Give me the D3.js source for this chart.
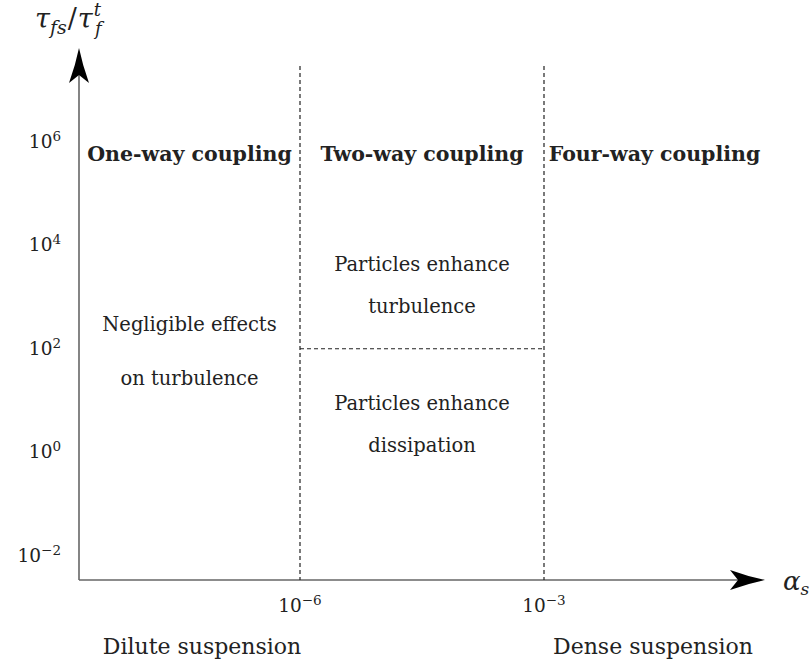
<!DOCTYPE html>
<html>
<head>
<meta charset="utf-8">
<script src="https://cdn.jsdelivr.net/npm/d3@7"></script>
<style>
  html, body { margin: 0; padding: 0; background: #fff; }
  svg text { font-family: "DejaVu Serif", "Liberation Serif", serif; fill: #222; }
</style>
</head>
<body>
<svg id="chart" width="812" height="664"></svg>
<script>
// ---------- data ----------
const xTickValues = [1e-6, 1e-3];
const xTickExponents = ["−6", "−3"];
const yTickValues = [1e-2, 1e0, 1e2, 1e4, 1e6];
const yTickExponents = ["−2", "0", "2", "4", "6"];
const regimeBoundaries = [1e-6, 1e-3];
const regimeNames = ["One-way coupling", "Two-way coupling", "Four-way coupling"];
const twoWayThreshold = 1e2;
const noteRegion = ["one", "one", "two", "two", "two", "two"];
const noteLevel = [10 ** 2.34, 10 ** 1.3, 10 ** 3.5, 10 ** 2.69, 10 ** 0.81, 10 ** 0.0];
const noteText = ["Negligible effects", "on turbulence", "Particles enhance", "turbulence", "Particles enhance", "dissipation"];
const bottomLabels = ["Dilute suspension", "Dense suspension"];

// ---------- scales ----------
const svg = d3.select("#chart");
const x = d3.scaleLog().domain([1e-6, 1e-3]).range([300, 544]);
const y = d3.scaleLog().domain([1e-2, 1e6]).range([555.5, 142]);

const originX = 79, originY = 580;
const xEnd = 765, yEnd = 48;
const axisColor = "#666";

// ---------- axes ----------
svg.append("line").attr("x1", originX).attr("y1", originY).attr("x2", xEnd - 20).attr("y2", originY)
  .attr("stroke", axisColor).attr("stroke-width", 1.6);
svg.append("line").attr("x1", originX).attr("y1", originY).attr("x2", originX).attr("y2", yEnd + 20)
  .attr("stroke", axisColor).attr("stroke-width", 1.6);

const stealth = "M0,0 Q-17,-3.5 -35,-10 L-27,0 L-35,10 Q-17,3.5 0,0 Z";
svg.append("path").attr("d", stealth).attr("fill", "#000")
  .attr("transform", `translate(${xEnd},${originY})`);
svg.append("path").attr("d", stealth).attr("fill", "#000")
  .attr("transform", `translate(${originX},${yEnd}) rotate(-90)`);

// ---------- dashed regime boundaries ----------
svg.selectAll("line.bound").data(regimeBoundaries).join("line")
  .attr("class", "bound")
  .attr("x1", d => x(d)).attr("x2", d => x(d))
  .attr("y1", 66).attr("y2", originY)
  .attr("stroke", "#222").attr("stroke-width", 1.2).attr("stroke-dasharray", "4,3");

svg.append("line")
  .attr("x1", x(regimeBoundaries[0])).attr("x2", x(regimeBoundaries[1]))
  .attr("y1", y(twoWayThreshold)).attr("y2", y(twoWayThreshold))
  .attr("stroke", "#222").attr("stroke-width", 1.2).attr("stroke-dasharray", "4,3");

// ---------- tick labels ----------
const fs = 18.5;
const xt = svg.selectAll("text.xt").data(xTickValues).join("text")
  .attr("class", "xt")
  .attr("x", d => x(d)).attr("y", originY + 32)
  .attr("text-anchor", "middle").attr("font-size", fs);
xt.append("tspan").text("10");
xt.append("tspan").attr("dy", -7).attr("font-size", 13.5).text((d, i) => xTickExponents[i]);

const yt = svg.selectAll("text.yt").data(yTickValues).join("text")
  .attr("class", "yt")
  .attr("x", 61).attr("y", d => y(d) + 6)
  .attr("text-anchor", "end").attr("font-size", fs);
yt.append("tspan").text("10");
yt.append("tspan").attr("dy", -7).attr("font-size", 13.5).text((d, i) => yTickExponents[i]);

// ---------- regime titles ----------
const regimeCenters = [
  (originX + x(regimeBoundaries[0])) / 2,
  (x(regimeBoundaries[0]) + x(regimeBoundaries[1])) / 2,
  (x(regimeBoundaries[1]) + xEnd) / 2
];
svg.selectAll("text.regime").data(regimeNames).join("text")
  .attr("class", "regime")
  .attr("x", (d, i) => regimeCenters[i])
  .attr("y", y(10 ** 5.63))
  .attr("text-anchor", "middle")
  .attr("font-size", 20.5).attr("font-weight", "bold")
  .text(d => d);

// ---------- region notes ----------
svg.selectAll("text.note").data(noteText).join("text")
  .attr("class", "note")
  .attr("x", (d, i) => noteRegion[i] === "one" ? regimeCenters[0] : regimeCenters[1])
  .attr("y", (d, i) => y(noteLevel[i]))
  .attr("text-anchor", "middle").attr("font-size", 19.5)
  .text(d => d);

// ---------- bottom labels ----------
svg.selectAll("text.bottom").data(bottomLabels).join("text")
  .attr("class", "bottom")
  .attr("x", (d, i) => i === 0 ? 202 : 653)
  .attr("y", 654)
  .attr("text-anchor", "middle").attr("font-size", 22)
  .text(d => d);

// ---------- axis titles ----------
const ylab = svg.append("text").attr("x", 35).attr("y", 28).attr("font-size", 27).attr("font-style", "italic");
ylab.append("tspan").text("τ");
ylab.append("tspan").attr("dy", 6).attr("font-size", 19).text("fs");
ylab.append("tspan").attr("dx", 1).attr("dy", -6).attr("font-size", 27).attr("font-style", "normal").text("/");
ylab.append("tspan").attr("dx", 1).text("τ");
ylab.append("tspan").attr("dx", 1).attr("dy", -12).attr("font-size", 18).text("t");
ylab.append("tspan").attr("dx", -6).attr("dy", 19).attr("font-size", 18).text("f");

const xlab = svg.append("text").attr("x", 783).attr("y", 590).attr("font-size", 26).attr("font-style", "italic");
xlab.append("tspan").text("α");
xlab.append("tspan").attr("dy", 5).attr("font-size", 17).text("s");
</script>
</body>
</html>
